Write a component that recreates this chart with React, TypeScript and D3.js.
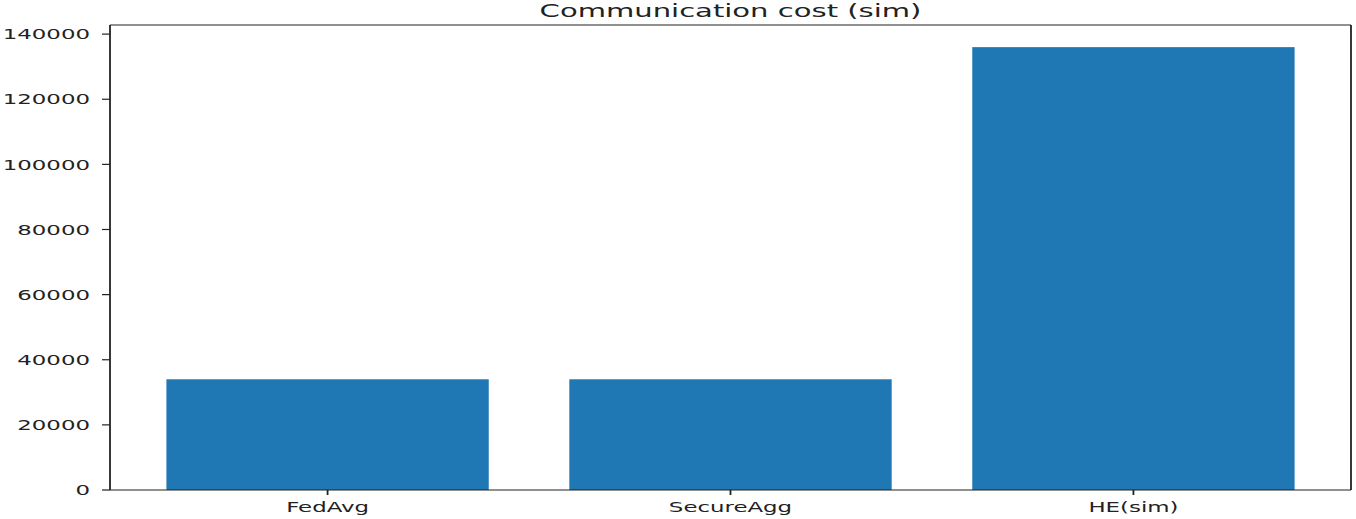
import React from "react";
import * as d3 from "d3";

const categories: string[] = ["FedAvg", "SecureAgg", "HE(sim)"];
const costs: number[] = [34000, 34000, 136000];
const yTicks: number[] = [0, 20000, 40000, 60000, 80000, 100000, 120000, 140000];
const title = "Communication cost (sim)";

const W = 1356;
const H = 519;
const left = 110;
const right = 1351;
const top = 25;
const bottom = 490;
const SX = 1.67; // horizontal stretch of the reference
const barWidth = 0.8;
const color = "#1f77b4";
const ink = "#222";

export default function App() {
  const n = categories.length;
  const pad = 0.05 * (n - 1 + barWidth);
  const x = d3
    .scaleLinear()
    .domain([-barWidth / 2 - pad, n - 1 + barWidth / 2 + pad])
    .range([left, right]);
  const yMax = (d3.max(costs) as number) * 1.05;
  const y = d3.scaleLinear().domain([0, yMax]).range([bottom, top]);

  const font = "'DejaVu Sans', sans-serif";
  const tickFs = 13.7;

  return (
    <svg
      width={W}
      height={H}
      style={{ position: "absolute", left: 0, top: 0, background: "#fff" }}
    >
      <rect x={0} y={0} width={W} height={H} fill="#fff" />
      {costs.map((v, i) => (
        <rect
          key={categories[i]}
          x={x(i - barWidth / 2)}
          y={y(v)}
          width={x(i + barWidth / 2) - x(i - barWidth / 2)}
          height={y(0) - y(v)}
          fill={color}
        />
      ))}
      {/* spines */}
      <line x1={left} x2={right} y1={top} y2={top} stroke={ink} strokeWidth={1.2} />
      <line x1={left} x2={right} y1={bottom} y2={bottom} stroke={ink} strokeWidth={1.2} />
      <line x1={left} x2={left} y1={top} y2={bottom} stroke={ink} strokeWidth={1.8} />
      <line x1={right} x2={right} y1={top} y2={bottom} stroke={ink} strokeWidth={1.8} />
      {/* y ticks */}
      {yTicks.map((t) => (
        <g key={t}>
          <line x1={left - 8} x2={left} y1={y(t)} y2={y(t)} stroke={ink} strokeWidth={1.2} />
          <text
            transform={`translate(${left - 20},${y(t) + 5.2}) scale(${SX},1)`}
            textAnchor="end"
            fontFamily={font}
            fontSize={tickFs}
            fill={ink}
          >
            {t}
          </text>
        </g>
      ))}
      {/* x ticks */}
      {categories.map((c, i) => (
        <g key={c}>
          <line x1={x(i)} x2={x(i)} y1={bottom} y2={bottom + 5} stroke={ink} strokeWidth={1.8} />
          <text
            transform={`translate(${x(i)},${bottom + 22}) scale(${SX},1)`}
            textAnchor="middle"
            fontFamily={font}
            fontSize={tickFs}
            fill={ink}
          >
            {c}
          </text>
        </g>
      ))}
      <text
        transform={`translate(${(left + right) / 2},17) scale(${SX},1)`}
        textAnchor="middle"
        fontFamily={font}
        fontSize={17.4}
        fill={ink}
      >
        {title}
      </text>
    </svg>
  );
}
